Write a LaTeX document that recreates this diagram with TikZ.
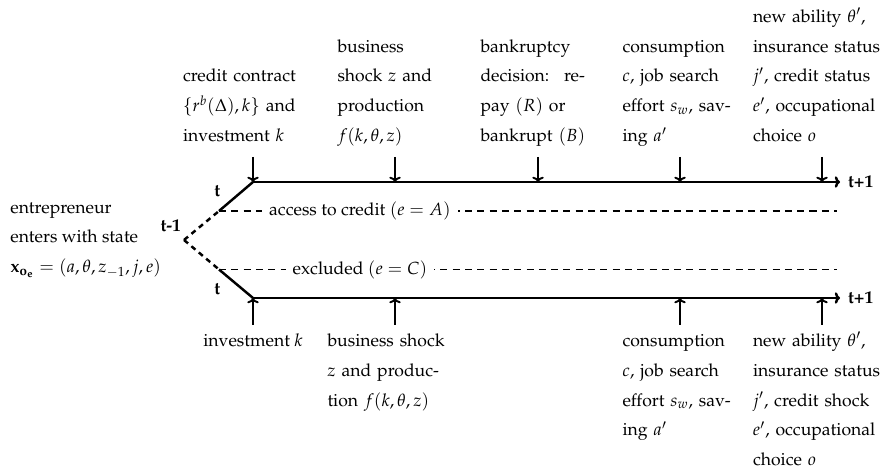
\documentclass[tikz,border=0pt]{standalone}
\usepackage[T1]{fontenc}
\usepackage{mathpazo}
\usepackage{amsmath}
\usetikzlibrary{
  arrows.meta,
  positioning,
  calc
}
\tikzset{
  timeline/.style={line width=1.4pt},
  branch/.style={line width=1.4pt, dash pattern=on 3pt off 2.5pt},
  statusline/.style={line width=0.6pt, dash pattern=on 4pt off 3pt},
  tickarrow/.style={-{To[length=3pt,width=6.5pt]}, line width=1.1pt},
  mainarrow/.style={timeline, -{To[length=3pt,width=6.5pt]}},
  event/.style={
    align=left,
    inner sep=0pt,
    font=\fontsize{10}{17}\selectfont
  },
  period/.style={font=\bfseries, inner sep=1.5pt},
  status/.style={fill=white, inner xsep=4pt, inner ysep=1pt}
}

\begin{document}
\begin{tikzpicture}
  \useasboundingbox (0,0) rectangle (17.68,9.42);

  \coordinate (fork) at (3.68,4.62);
  \coordinate (accA) at (4.38,5.20);
  \coordinate (excC) at (4.38,4.03);
  \coordinate (accend) at (16.74,5.20);
  \coordinate (excend) at (16.74,4.03);
  \coordinate (topend) at (16.80,5.78);
  \coordinate (botend) at (16.80,3.46);

  % points on the two time lines
  \coordinate (onA1) at (5.06,5.78);
  \coordinate (onA2) at (7.90,5.78);
  \coordinate (onA3) at (10.76,5.78);
  \coordinate (onA4) at (13.60,5.78);
  \coordinate (onA5) at (16.44,5.78);
  \coordinate (onC1) at (5.06,3.46);
  \coordinate (onC2) at (7.90,3.46);
  \coordinate (onC4) at (13.60,3.46);
  \coordinate (onC5) at (16.44,3.46);
  \coordinate (upA1) at ($(onA1)+(0,0.5)$);
  \coordinate (upA2) at ($(onA2)+(0,0.5)$);
  \coordinate (upA3) at ($(onA3)+(0,0.5)$);
  \coordinate (upA4) at ($(onA4)+(0,0.5)$);
  \coordinate (upA5) at ($(onA5)+(0,0.5)$);
  \coordinate (dnC1) at ($(onC1)+(0,-0.54)$);
  \coordinate (dnC2) at ($(onC2)+(0,-0.54)$);
  \coordinate (dnC4) at ($(onC4)+(0,-0.54)$);
  \coordinate (dnC5) at ($(onC5)+(0,-0.54)$);

  \node[event, anchor=west] (state) at (0.20,4.62) {entrepreneur\\ enters with state\\ $\mathbf{x}_{\mathbf{o}_{\mathbf{e}}} = (a,\theta,z_{-1},j,e)$};
  \node[period, above left=0.1cm and 0cm of fork] (tminus) {t-1};

  \draw[branch] (fork) -- (accA);
  \draw[branch] (fork) -- (excC);
  \draw[timeline] (accA) -- node[period, pos=0.15, above left=0.12cm and 0cm] (tA) {t} (onA1);
  \draw[timeline] (excC) -- node[period, pos=0.15, below left=0.12cm and 0cm] (tC) {t} (onC1);
  \draw[mainarrow] (onA1) -- (topend);
  \draw[mainarrow] (onC1) -- (botend);
  \node[period, right=0.1cm of topend] (tplusA) {t+1};
  \node[period, right=0.1cm of botend] (tplusC) {t+1};

  \draw[statusline] (accA) -- node[status, pos=0.228] (access) {access to credit $(e=A)$} (accend);
  \draw[statusline] (excC) -- node[status, pos=0.228] (excluded) {excluded $(e=C)$} (excend);

  % access to credit
  \node[event, text width=2.8cm, above=0.12cm of upA1] (credit) {credit contract\\ $\{r^b(\Delta),k\}$ and\\ investment $k$\strut};
  \node[event, text width=2.3cm, above=0.12cm of upA2] (shockA) {business\\ shock $z$ and\\ production\\ $f(k,\theta,z)$\strut};
  \node[event, text width=2.3cm, above=0.12cm of upA3] (bankrupt) {bankruptcy\\ decision: \ re-\\ pay $(R)$ or\\ bankrupt $(B)$\strut};
  \node[event, text width=2.3cm, above=0.12cm of upA4] (consA) {consumption\\ $c$, job search\\ effort $s_w$, sav-\\ ing $a'$\strut};
  \node[event, text width=2.76cm, above=0.12cm of upA5] (newA) {new ability $\theta'$,\\ insurance status\\ $j'$, credit status\\ $e'$, occupational\\ choice $o$\strut};
  \draw[tickarrow] (upA1) -- (onA1);
  \draw[tickarrow] (upA2) -- (onA2);
  \draw[tickarrow] (upA3) -- (onA3);
  \draw[tickarrow] (upA4) -- (onA4);
  \draw[tickarrow] (upA5) -- (onA5);

  % excluded
  \node[event, below=0cm of dnC1] (investC) {\strut investment $k$};
  \node[event, text width=2.7cm, below=0cm of dnC2] (shockC) {\strut business shock\\ $z$ and produc-\\ tion $f(k,\theta,z)$};
  \node[event, text width=2.3cm, below=0cm of dnC4] (consC) {\strut consumption\\ $c$, job search\\ effort $s_w$, sav-\\ ing $a'$};
  \node[event, text width=2.76cm, below=0cm of dnC5] (newC) {\strut new ability $\theta'$,\\ insurance status\\ $j'$, credit shock\\ $e'$, occupational\\ choice $o$};
  \draw[tickarrow] (dnC1) -- (onC1);
  \draw[tickarrow] (dnC2) -- (onC2);
  \draw[tickarrow] (dnC4) -- (onC4);
  \draw[tickarrow] (dnC5) -- (onC5);
\end{tikzpicture}
\end{document}
